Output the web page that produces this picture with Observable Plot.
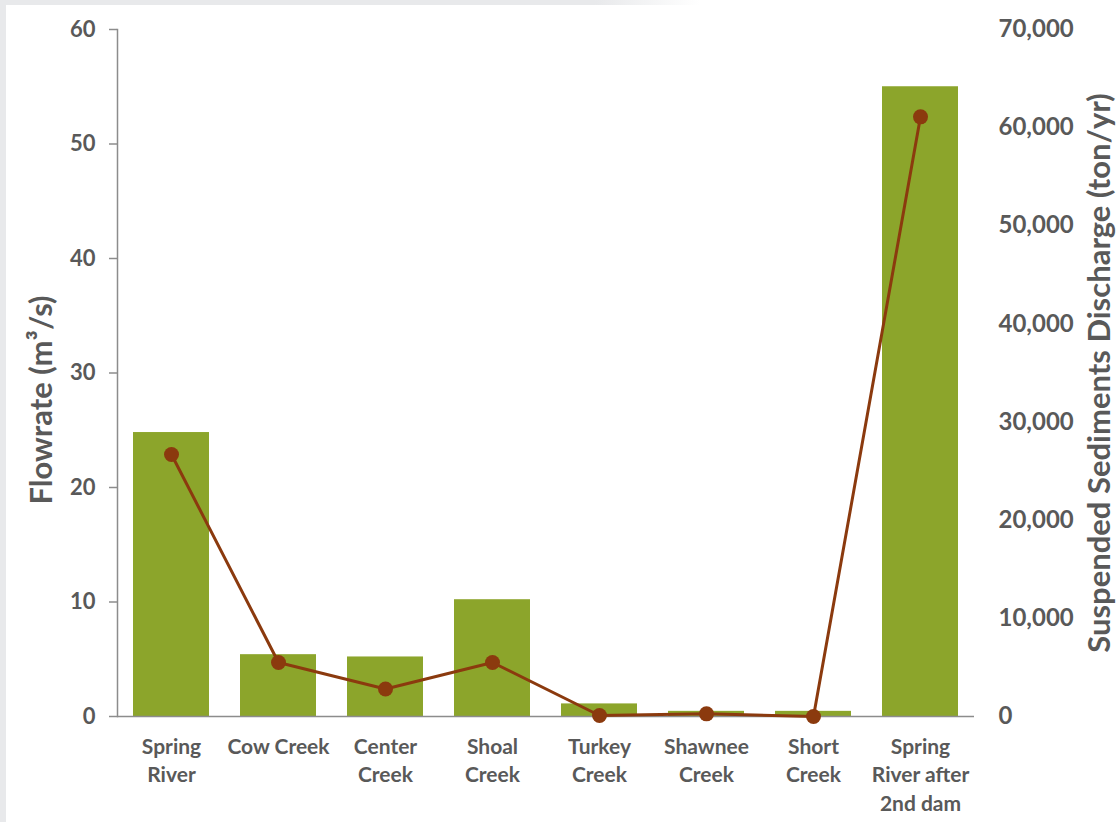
<!DOCTYPE html>
<html>
<head>
<meta charset="utf-8">
<script src="https://cdn.jsdelivr.net/npm/d3@7"></script>
<script src="https://cdn.jsdelivr.net/npm/@observablehq/plot@0.6"></script>
<style>
  html, body { margin: 0; padding: 0; background: #ffffff; }
  #wrap { position: relative; width: 1117px; height: 822px; overflow: hidden; background: #fff; }
  #chart svg { display: block; }
  #leftStrip { position: absolute; left: 0; top: 0; width: 6px; height: 822px; background: #e8e9eb; }
  #topStrip { position: absolute; left: 0; top: 0; width: 700px; height: 5px; background: linear-gradient(to right, #e8e9eb 85%, #ffffff); }
  .legend { position: absolute; font-family: Lato, "Open Sans", sans-serif; font-weight: bold; font-size: 21px; color: #595959; }
  .legend .row { position: absolute; white-space: nowrap; }
</style>
</head>
<body>
<div id="wrap">
  <div id="chart"></div>
  <div id="leftStrip"></div>
  <div id="topStrip"></div>
  <div class="legend">
    <div class="row" style="left:199px; top:184px;">
      <span style="position:absolute; left:0; top:6px; width:31px; height:12px; background:#8CA52B;"></span>
      <span style="position:absolute; left:35px; top:-1px; line-height:24px;">Flowrate</span>
    </div>
    <div class="row" style="left:197px; top:222px;">
      <span style="position:absolute; left:0; top:10.5px; width:34px; height:3px; background:#8B3A0E;"></span>
      <span style="position:absolute; left:12px; top:6px; width:12px; height:12px; border-radius:50%; background:#8B3A0E;"></span>
      <span style="position:absolute; left:37px; top:-1px; line-height:24px;">Discharge</span>
    </div>
  </div>
</div>
<script>
const categories = ["Spring River", "Cow Creek", "Center Creek", "Shoal Creek", "Turkey Creek", "Shawnee Creek", "Short Creek", "Spring River after 2nd dam"];
const categoryLabels = ["Spring\nRiver", "Cow Creek", "Center\nCreek", "Shoal\nCreek", "Turkey\nCreek", "Shawnee\nCreek", "Short\nCreek", "Spring\nRiver after\n2nd dam"];
const flowrate = [24.8, 5.4, 5.2, 10.2, 1.1, 0.45, 0.45, 55];
const discharge = [26700, 5500, 2800, 5500, 100, 270, 0, 61100];
const leftTicks = [0, 10, 20, 30, 40, 50, 60];
const rightTicks = [0, 10000, 20000, 30000, 40000, 50000, 60000, 70000];
const leftMax = 60, rightMax = 70000;

const toLeft = v => v * leftMax / rightMax;
const data = categories.map((c, i) => ({category: c, flow: flowrate[i], dis: toLeft(discharge[i])}));
const labelOf = Object.fromEntries(categories.map((c, i) => [c, categoryLabels[i]]));

const textColor = "#595959";
const axisColor = "#8c8c8c";
const barColor = "#8CA52B";
const lineColor = "#8B3A0E";

const chart = Plot.plot({
  width: 1117,
  height: 822,
  marginLeft: 117,
  marginRight: 143,
  marginTop: 29,
  marginBottom: 106,
  x: {domain: categories, paddingInner: 0.29, paddingOuter: 0.145, align: 0.5},
  y: {domain: [0, leftMax]},
  style: {fontFamily: "Lato, 'Open Sans', sans-serif", color: textColor, background: "transparent", overflow: "visible"},
  marks: [
    Plot.barY(data, {x: "category", y: "flow", fill: barColor}),
    Plot.frame({anchor: "left", stroke: axisColor, strokeWidth: 1.5}),
    Plot.ruleY([0], {stroke: axisColor, strokeWidth: 1.5}),
    Plot.axisY({anchor: "left", ticks: leftTicks, tickSize: 8, tickPadding: 14, fontSize: 22, fontWeight: "bold", fill: textColor, stroke: axisColor, strokeWidth: 1.5, label: null}),
    Plot.axisY({anchor: "right", ticks: rightTicks.map(toLeft), tickFormat: d => d3.format(",")(Math.round(d * rightMax / leftMax)), tickSize: 0, tickPadding: 24, fontSize: 24, fontWeight: "bold", fill: textColor, label: null}),
    Plot.axisX({anchor: "bottom", tickSize: 0, tickPadding: 17, tickFormat: d => labelOf[d], fontSize: 21, fontWeight: "bold", lineHeight: 1.36, fill: textColor, label: null}),
    Plot.line(data, {x: "category", y: "dis", stroke: lineColor, strokeWidth: 3}),
    Plot.dot(data, {x: "category", y: "dis", r: 7.5, fill: lineColor}),
    Plot.text(["Flowrate (m³/s)"], {frameAnchor: "left", textAnchor: "middle", rotate: -90, dx: -75, dy: 27, fontSize: 31, fontWeight: "bold", fill: textColor}),
    Plot.text(["Suspended Sediments Discharge (ton/yr)"], {frameAnchor: "right", textAnchor: "middle", rotate: -90, dx: 126, dy: 0, fontSize: 31, fontWeight: "bold", fill: textColor})
  ]
});
document.getElementById("chart").appendChild(chart);
</script>
</body>
</html>
